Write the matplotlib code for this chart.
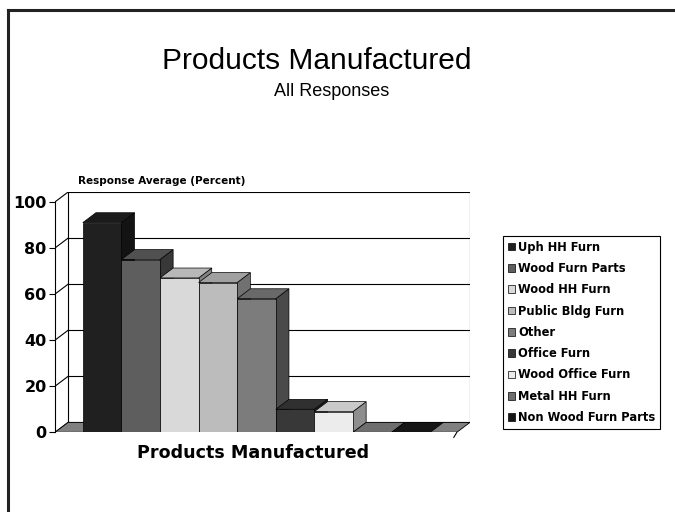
import numpy as np
import matplotlib.pyplot as plt
from matplotlib.patches import Polygon
from matplotlib.lines import Line2D

# data
categories = ['Uph HH Furn', 'Wood Furn Parts', 'Wood HH Furn', 'Public Bldg Furn',
              'Other', 'Office Furn', 'Wood Office Furn', 'Metal HH Furn',
              'Non Wood Furn Parts']
values = [91, 75, 67, 65, 58, 10, 9, 0, 0]
colors = ['#202020', '#5e5e5e', '#d9d9d9', '#bcbcbc', '#7c7c7c',
          '#383838', '#ececec', '#6e6e6e', '#161616']
yticks = [0, 20, 40, 60, 80, 100]

# 3d look parameters (in data units)
dx = 0.34
dy = 4.3
x_start = 0.72
bar_w = 1.0
x_end = 10.41


def shade(c, f):
    rgb = np.array(plt.matplotlib.colors.to_rgb(c))
    return tuple(np.clip(rgb * f, 0, 1))


fig = plt.figure(figsize=(6.75, 5.12), dpi=100)
ax = fig.add_axes([55 / 675, 1 - 432.3 / 512, 415 / 675, 240.3 / 512])
ax.set_xlim(0, x_end + dx)
ax.set_ylim(0, 100 + dy)

# back wall grid + left wall diagonals
for g in yticks:
    ax.plot([dx, x_end + dx], [g + dy, g + dy], color='black', lw=0.8, zorder=1)
    ax.plot([0, dx], [g, g + dy], color='black', lw=0.8, zorder=1)
ax.plot([dx, dx], [dy, 100 + dy], color='black', lw=0.8, zorder=1)
ax.plot([x_end + dx, x_end + dx], [dy, 100 + dy], color='black', lw=0.8, zorder=1)

# floor
floor = Polygon([(0, 0), (x_end, 0), (x_end + dx, dy), (dx, dy)],
                closed=True, facecolor='#808080', edgecolor='black', lw=0.6, zorder=2)
ax.add_patch(floor)

# bars
handles = []
for i, (v, c) in enumerate(zip(values, colors)):
    x0 = x_start + i * bar_w
    z = 3 + i
    if v > 0:
        side = Polygon([(x0 + bar_w, 0), (x0 + bar_w + dx, dy), (x0 + bar_w + dx, v + dy), (x0 + bar_w, v)],
                       closed=True, facecolor=shade(c, 0.6), edgecolor='black', lw=0.5, zorder=z)
        ax.add_patch(side)
    top = Polygon([(x0, v), (x0 + bar_w, v), (x0 + bar_w + dx, v + dy), (x0 + dx, v + dy)],
                  closed=True, facecolor=shade(c, 0.85) if v > 0 else c,
                  edgecolor='black', lw=0.5, zorder=z)
    ax.add_patch(top)
    b = ax.bar(x0, v, width=bar_w, align='edge', color=c, edgecolor='black', lw=0.5, zorder=z)
    handles.append(b)

ax.plot([x_end, x_end - 0.08], [0, -2.2], color='black', lw=0.8, clip_on=False)

# axes styling
for s in ['top', 'right', 'bottom']:
    ax.spines[s].set_visible(False)
ax.spines['left'].set_bounds(0, 100)
ax.spines['left'].set_linewidth(0.8)
ax.set_xticks([])
ax.set_yticks(yticks)
ax.tick_params(axis='y', length=4, width=0.8, pad=2, labelsize=11.5)
for lbl in ax.get_yticklabels():
    lbl.set_fontfamily('DejaVu Sans')
    lbl.set_fontweight('bold')

fig.text(78 / 675, 1 - 181 / 512, 'Response Average (Percent)', fontsize=7.5,
         fontweight='bold', family='DejaVu Sans', va='center', ha='left')
fig.text(253 / 675, 1 - 453 / 512, 'Products Manufactured', fontsize=12.6,
         fontweight='bold', family='DejaVu Sans', va='center', ha='center')

fig.text(317 / 675, 1 - 61 / 512, 'Products Manufactured', fontsize=21.5,
         family='Liberation Sans', va='center', ha='center')
fig.text(332 / 675, 1 - 92 / 512, 'All Responses', fontsize=13,
         family='Liberation Sans', va='center', ha='center')

leg = fig.legend(handles=[h[0] for h in handles], labels=categories,
                 loc='upper left', bbox_to_anchor=(503 / 675, 1 - 236 / 512),
                 prop={'family': 'DejaVu Sans', 'weight': 'bold', 'size': 8.3},
                 handlelength=0.65, handleheight=0.65, handletextpad=0.25,
                 labelspacing=0.72, borderpad=0.4, borderaxespad=0,
                 fancybox=False, framealpha=1, edgecolor='black')
leg.get_frame().set_linewidth(0.8)

# outer border (left and top)
fig.add_artist(Line2D([8 / 675, 8 / 675], [0, 1 - 10 / 512], color='#222222', lw=2.2))
fig.add_artist(Line2D([8 / 675, 1], [1 - 10 / 512, 1 - 10 / 512], color='#222222', lw=2.2))

fig.savefig('out.png', dpi=100, facecolor='white')
